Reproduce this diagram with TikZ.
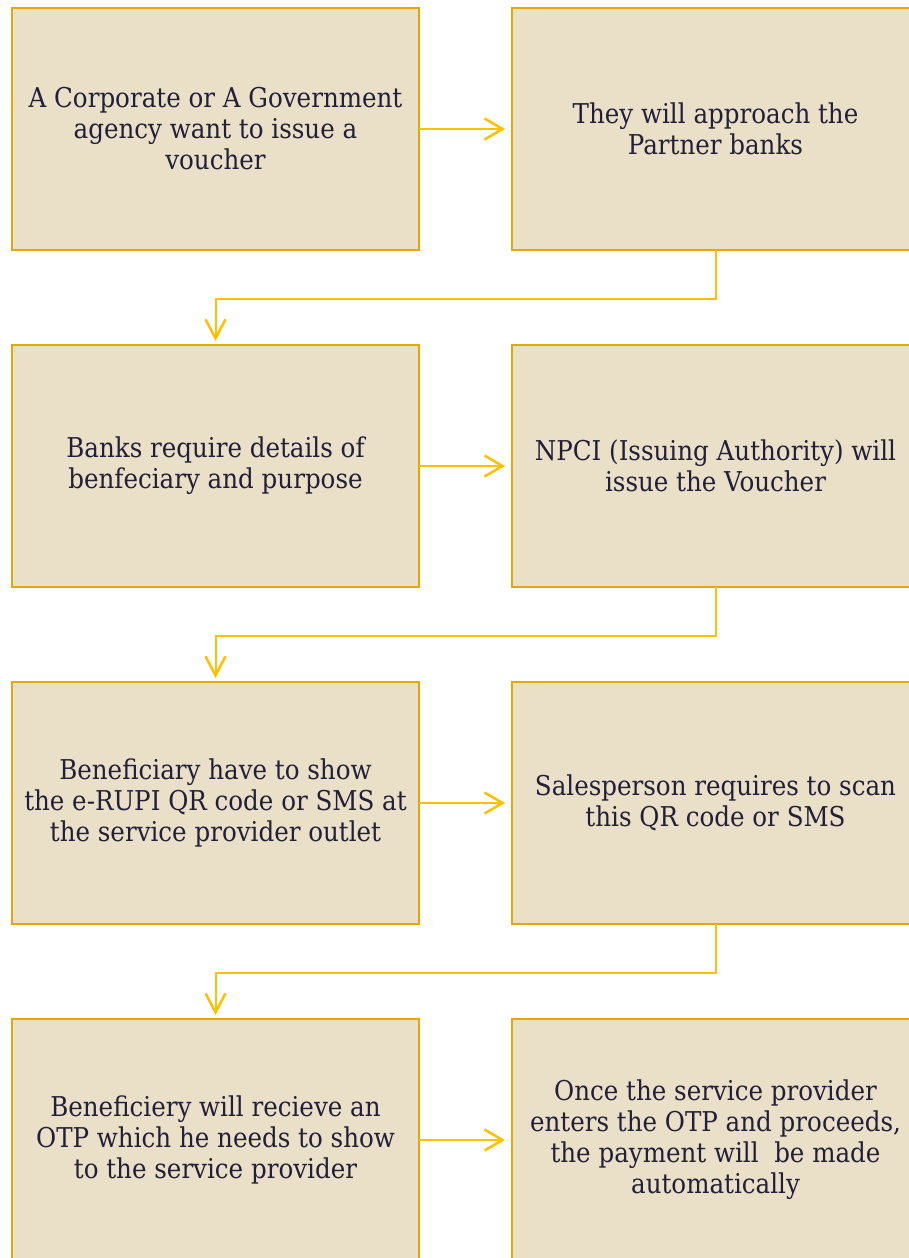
\documentclass[tikz,border=0pt]{standalone}
\usepackage{fontspec}
\setmainfont{DejaVu Serif Condensed}
\usetikzlibrary{arrows.meta}
\definecolor{boxfill}{RGB}{234,223,199}
\definecolor{boxline}{RGB}{230,168,0}
\definecolor{arrcol}{RGB}{255,192,0}
\definecolor{txt}{RGB}{32,32,58}
\tikzset{
  stepbox/.style={draw=boxline, fill=boxfill, line width=2.8pt, minimum width=407pt, minimum height=242pt, inner sep=0pt, outer sep=0pt, align=center, text=txt, font=\fontsize{27.3}{31}\selectfont},
  harr/.style={draw=arrcol, line width=2.5pt, -{Straight Barb[length=18pt,width=21pt,line width=2.5pt]}},
  varr/.style={draw=arrcol, line width=2pt, -{Straight Barb[length=19pt,width=20pt,line width=2.5pt]}}
}
\begin{document}
\begin{tikzpicture}[x=1pt,y=1pt]
\useasboundingbox (0,0) rectangle (909,-1258);
\clip (0,0) rectangle (909,-1258);
\node[stepbox] (L1) at (215.5,-129) {A Corporate or A Government\\agency want to issue a\\voucher};
\node[stepbox] (R1) at (715.5,-129) {They will approach the\\Partner banks};
\node[stepbox] (L2) at (215.5,-466) {Banks require details of\\benfeciary and purpose};
\node[stepbox] (R2) at (715.5,-466) {NPCI (Issuing Authority) will\\issue the Voucher};
\node[stepbox] (L3) at (215.5,-803) {Beneficiary have to show\\the e-RUPI QR code or SMS at\\the service provider outlet};
\node[stepbox] (R3) at (715.5,-803) {Salesperson requires to scan\\this QR code or SMS};
\node[stepbox] (L4) at (215.5,-1140) {Beneficiery will recieve an\\OTP which he needs to show\\to the service provider};
\node[stepbox] (R4) at (715.5,-1140) {Once the service provider\\enters the OTP and proceeds,\\the payment will\ \ be made\\automatically};
\foreach \r in {1,2,3,4}{
  \draw[harr] (L\r.east) -- ([xshift=-7pt]R\r.west);
}
\foreach \a/\b in {1/2,2/3,3/4}{
  \draw[varr] (R\a.south) -- ++(0,-49) -| ([yshift=4pt]L\b.north);
}
\end{tikzpicture}
\end{document}
